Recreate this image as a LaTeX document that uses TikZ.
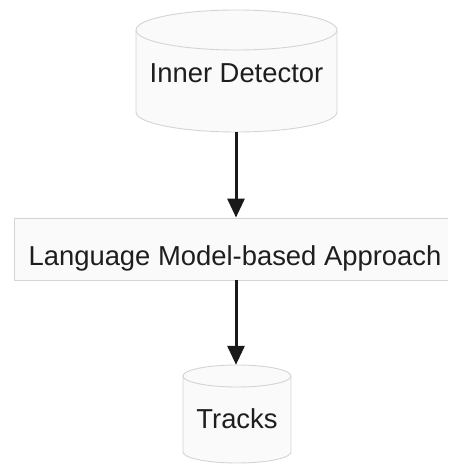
\documentclass[tikz,border=0pt]{standalone}
\usepackage{fontspec}
\setmainfont{Liberation Sans}
\usetikzlibrary{arrows.meta}
\definecolor{strokeg}{HTML}{D4D4D4}
\definecolor{fillg}{HTML}{FAFAFA}
\definecolor{txt}{HTML}{1E1E1E}
\begin{document}
\begin{tikzpicture}[x=1pt,y=1pt,
  cyl/.style={draw=strokeg,fill=fillg,line width=0.9pt},
  lbl/.style={text=txt,font=\fontsize{27.4}{30}\selectfont,inner sep=0pt,anchor=base},
  flow/.style={line width=3pt,draw=black!90,-{Triangle[width=17pt,length=19pt]}}]
\useasboundingbox (0,0) rectangle (448,466);
\clip (0,0) rectangle (448,466);
% top cylinder
\path[cyl] (136,436) -- (136,354) arc[start angle=180,end angle=360,x radius=100.5,y radius=20] -- (337,436) arc[start angle=0,end angle=180,x radius=100.5,y radius=20] -- cycle;
\draw[cyl,fill=none] (136,436) arc[start angle=180,end angle=360,x radius=100.5,y radius=20];
\node[minimum width=201pt,minimum height=122pt,inner sep=0pt] (det) at (236.5,395) {};
\node[lbl] (detl) at (236.5,383) {Inner Detector};
% middle box
\node[draw=strokeg,fill=fillg,line width=0.9pt,minimum width=444pt,minimum height=62pt,inner sep=0pt] (lm) at (236,217) {};
\node[lbl] (lml) at (235,200) {Language Model-based Approach};
% bottom cylinder
\path[cyl] (183,90) -- (183,14) arc[start angle=180,end angle=360,x radius=54,y radius=11] -- (291,90) arc[start angle=0,end angle=180,x radius=54,y radius=11] -- cycle;
\draw[cyl,fill=none] (183,90) arc[start angle=180,end angle=360,x radius=54,y radius=11];
\node[minimum width=108pt,minimum height=98pt,inner sep=0pt] (trk) at (237,52) {};
\node[lbl] (trkl) at (237,37) {Tracks};
% arrows
\draw[flow] (det.south -| 236,0) -- (lm.north -| 236,0);
\draw[flow] (lm.south -| 236,0) -- (trk.north -| 236,0);
\end{tikzpicture}
\end{document}
